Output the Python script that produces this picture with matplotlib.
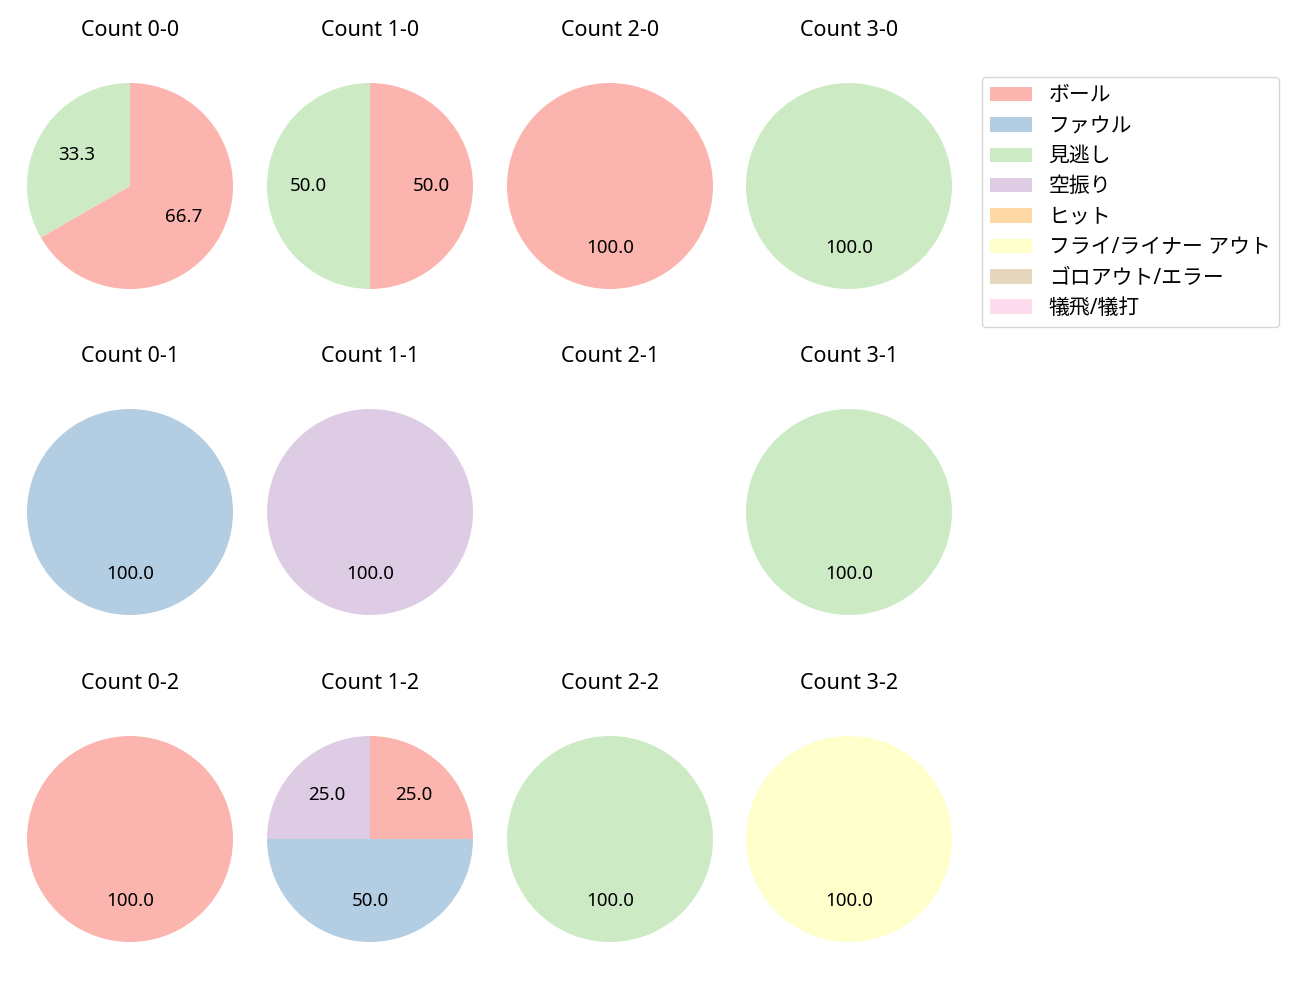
import numpy as np
import matplotlib.pyplot as plt
from matplotlib.patches import Patch

plt.rcParams['font.family'] = ['Noto Sans', 'Noto Sans CJK JP', 'DejaVu Sans']

categories = ['ボール', 'ファウル', '見逃し', '空振り', 'ヒット',
              'フライ/ライナー アウト', 'ゴロアウト/エラー', '犠飛/犠打']

# counts per ball-strike count, in category order
counts = {
    '0-0': [2, 0, 1, 0, 0, 0, 0, 0],
    '1-0': [1, 0, 1, 0, 0, 0, 0, 0],
    '2-0': [1, 0, 0, 0, 0, 0, 0, 0],
    '3-0': [0, 0, 1, 0, 0, 0, 0, 0],
    '0-1': [0, 1, 0, 0, 0, 0, 0, 0],
    '1-1': [0, 0, 0, 1, 0, 0, 0, 0],
    '2-1': [0, 0, 0, 0, 0, 0, 0, 0],
    '3-1': [0, 0, 1, 0, 0, 0, 0, 0],
    '0-2': [1, 0, 0, 0, 0, 0, 0, 0],
    '1-2': [1, 2, 0, 1, 0, 0, 0, 0],
    '2-2': [0, 0, 1, 0, 0, 0, 0, 0],
    '3-2': [0, 0, 0, 0, 0, 1, 0, 0],
}

colors = [plt.cm.Pastel1(i) for i in range(len(categories))]

W, H = 1300, 1000
fig = plt.figure(figsize=(13, 10), dpi=100)

col_x = [130, 370, 610, 849]
row_y = [186, 512, 839]
side = 257.5  # axes box side in px (pie limits +-1.25)

for r, strikes in enumerate([0, 1, 2]):
    for c, balls in enumerate([0, 1, 2, 3]):
        key = f'{balls}-{strikes}'
        cx, cy = col_x[c], row_y[r]
        ax = fig.add_axes([(cx - side / 2) / W, 1 - (cy + side / 2) / H,
                           side / W, side / H])
        vals = counts[key]
        idx = [i for i, v in enumerate(vals) if v > 0]
        if idx:
            ax.pie([vals[i] for i in idx], colors=[colors[i] for i in idx],
                   autopct='%.1f', startangle=90, counterclock=False,
                   textprops={'fontsize': 13.5})
        ax.set_xlim(-1.25, 1.25)
        ax.set_ylim(-1.25, 1.25)
        ax.set_aspect('equal')
        ax.axis('off')
        ax.set_title(f'Count {key}', fontsize=15.5, pad=15)

handles = [Patch(facecolor=colors[i], label=categories[i]) for i in range(len(categories))]
fig.legend(handles=handles, loc='upper left', bbox_to_anchor=(982 / W, 1 - 77 / H),
           fontsize=15, labelspacing=0.45, borderaxespad=0)

fig.savefig('out.png', dpi=100)
